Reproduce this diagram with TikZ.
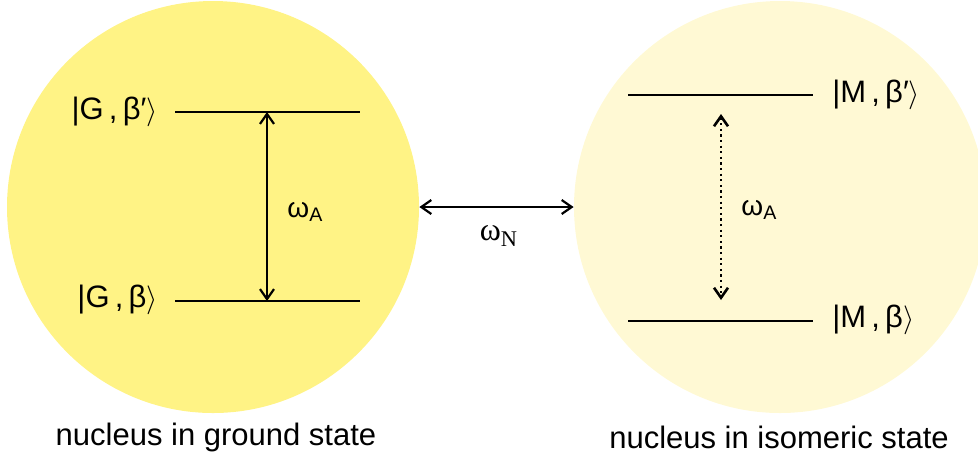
\documentclass[tikz,border=0pt]{standalone}
\usepackage{fontspec}
\setmainfont{Liberation Sans}
\newfontfamily\serifw{Liberation Serif}
\usetikzlibrary{positioning, arrows.meta}
\definecolor{gndFill}{HTML}{FFF385}
\definecolor{isoFill}{HTML}{FFF9D4}
\newcommand{\ket}[2]{|#1\,,\,#2$\rangle$}

\begin{document}
\begin{tikzpicture}[x=0.5pt,y=-0.5pt,
  nucleus/.style={circle, minimum size=206pt, inner sep=0pt},
  level/.style={line width=1.2pt},
  trans/.style={line width=1.1pt, {Straight Barb[length=5pt,width=7pt]}-{Straight Barb[length=5pt,width=7pt]}},
  statelbl/.style={font=\fontsize{15.5}{18}\selectfont, inner sep=0pt},
  freqlbl/.style={font=\fontsize{14}{16}\selectfont, inner sep=0pt},
  caption/.style={font=\fontsize{15.5}{18}\selectfont, inner sep=0pt}]
\useasboundingbox (0,0) rectangle (978,457);
\clip (0,0) rectangle (978,457);
% the two nuclei
\node[nucleus, fill=gndFill] (gnd) at (213,207) {};
\node[nucleus, fill=isoFill] (iso) at (780,207) {};
% ground state levels
\draw[level] (175,112) coordinate (g1l) -- (360,112) coordinate (g1r);
\draw[level] (175,301) coordinate (g0l) -- (360,301) coordinate (g0r);
\coordinate (gA) at (267,112); \coordinate (gB) at (267,301);
\draw[trans] (gA) -- (gB);
\node[statelbl, anchor=east] (gp) at (158,112) {\ket{G}{β′}};
\node[statelbl, anchor=east] (g) at (158,300) {\ket{G}{β}};
\node[freqlbl, anchor=west] (wAg) at (287,212) {ω\textsubscript{A}};
% isomeric state levels
\draw[level] (628,95) coordinate (m1l) -- (813,95) coordinate (m1r);
\draw[level] (628,321) coordinate (m0l) -- (813,321) coordinate (m0r);
\coordinate (mA) at (721,114); \coordinate (mB) at (721,300);
\draw[trans, line width=1.3pt, dash pattern=on 1.1pt off 1.7pt] (mA) -- (mB);
\node[statelbl, anchor=west] (mp) at (832,95) {\ket{M}{β′}};
\node[statelbl, anchor=west] (m) at (832,320) {\ket{M}{β}};
\node[freqlbl, anchor=west] (wAm) at (741,210) {ω\textsubscript{A}};
% coupling between the nuclei
\draw[trans] (gnd.east) -- (iso.west);
\node[freqlbl, font=\fontsize{16}{18}\selectfont] (wN) at (499,236) {\serifw ω\textsubscript{N}};
% captions
\node[caption] (gcap) at (216,437) {nucleus in ground state};
\node[caption] (icap) at (779,437) {nucleus in isomeric state};
\end{tikzpicture}
\end{document}
